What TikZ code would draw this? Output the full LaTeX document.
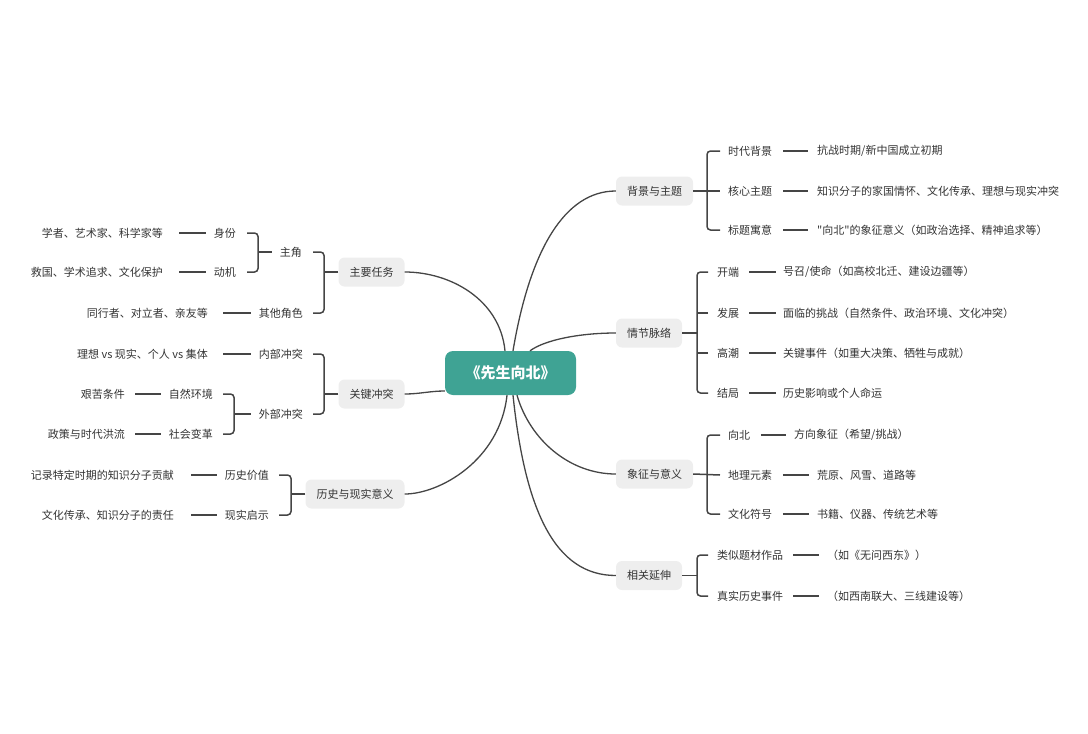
\documentclass[tikz,border=0pt]{standalone}
\usepackage{fontspec}
\setmainfont{Noto Sans CJK SC}[Ligatures=TeXOff]
\begin{document}
\begin{tikzpicture}[x=1pt,y=-1pt,
  ln/.style={draw=lc,line width=1.2pt},
  br/.style={draw=lc,line width=1.5pt,rounded corners=3.5pt},
  cv/.style={draw=lc,line width=1.3pt},
  box/.style={fill=boxc,rounded corners=6pt,minimum height=29pt,inner xsep=11pt,inner ysep=0pt,font=\fontsize{11}{13}\selectfont,text=tc},
  lbl/.style={inner sep=0pt,font=\fontsize{11}{13}\selectfont,text=tc},
  ctr/.style={fill=teal1,rounded corners=8pt,minimum width=131pt,minimum height=44pt,text=white,font=\fontsize{15}{18}\selectfont\bfseries}
]
\definecolor{lc}{HTML}{454545}
\definecolor{tc}{HTML}{333333}
\definecolor{boxc}{HTML}{EEEEEE}
\definecolor{teal1}{HTML}{3FA394}
\useasboundingbox (0,0) rectangle (1088,734);

% centre
\node[ctr] (c) at (510.5,373) {《先生向北》};

% first-level boxes
\node[box] (bg) at (654.5,191) {背景与主题};
\node[box] (qj) at (649,333) {情节脉络};
\node[box] (xz) at (654.5,474) {象征与意义};
\node[box] (xg) at (649,575.5) {相关延伸};
\node[box] (zy) at (371.5,272) {主要任务};
\node[box] (gj) at (371.5,394) {关键冲突};
\node[box] (ls) at (355,494) {历史与现实意义};

% main curves
\draw[cv] ([xshift=2.5pt]c.north) .. controls +(17,-101) and +(-51,0) .. (bg.west);
\draw[cv] ([xshift=19.5pt]c.north) .. controls +(15,-11) and +(-36,0) .. (qj.west);
\draw[cv] ([xshift=-5.5pt]c.north) .. controls +(-5,-51) and +(46,0) .. (zy.east);
\draw[cv] ([yshift=-18pt]c.west) .. controls +(-15,0) and +(15,0) .. (gj.east);
\draw[cv] ([xshift=-3.5pt]c.south) .. controls +(-7,65) and +(35,0) .. (ls.east);
\draw[cv] ([xshift=6.5pt]c.south) .. controls +(13,45) and +(-46,0) .. (xz.west);
\draw[cv] ([xshift=2.5pt]c.south) .. controls +(12,115) and +(-61,0) .. (xg.west);

% ---------- 背景与主题 ----------
\node[lbl,anchor=west] (b1) at (728,151) {时代背景};
\node[lbl,anchor=west] (b2) at (728,191) {核心主题};
\node[lbl,anchor=west] (b3) at (728,230) {标题寓意};
\node[lbl,anchor=west] (b1l) at (817,151) {抗战时期/新中国成立初期};
\node[lbl,anchor=west] (b2l) at (817,191) {知识分子的家国情怀、文化传承、理想与现实冲突};
\node[lbl,anchor=west] (b3l) at (817,230) {"向北"的象征意义（如政治选择、精神追求等）};
\draw[br] ([xshift=-8pt]b1.west) -- ++(-13,0) |- ([xshift=-8pt]b3.west);
\draw[ln,line width=1.5pt] (bg.east) -- ([xshift=-8pt]b2.west);
\foreach \a in {1,2,3}{\draw[ln] ([xshift=11pt]b\a.east) -- ([xshift=-9pt]b\a l.west);}

% ---------- 情节脉络 ----------
\node[lbl,anchor=west] (q1) at (717,272) {开端};
\node[lbl,anchor=west] (q2) at (717,313) {发展};
\node[lbl,anchor=west] (q3) at (717,353) {高潮};
\node[lbl,anchor=west] (q4) at (717,393) {结局};
\node[lbl,anchor=west] (q1l) at (783,272) {号召/使命（如高校北迁、建设边疆等）};
\node[lbl,anchor=west] (q2l) at (783,313) {面临的挑战（自然条件、政治环境、文化冲突）};
\node[lbl,anchor=west] (q3l) at (783,353) {关键事件（如重大决策、牺牲与成就）};
\node[lbl,anchor=west] (q4l) at (783,393) {历史影响或个人命运};
\draw[br] ([xshift=-9pt]q1.west) -- ++(-11,0) |- ([xshift=-9pt]q4.west);
\draw[ln] ([xshift=-9pt]q2.west) -- ++(-11,0);
\draw[ln] ([xshift=-9pt]q3.west) -- ++(-11,0);
\draw[ln,line width=1.5pt] (qj.east) -- ++(15,0);
\foreach \a in {1,2,3,4}{\draw[ln] ([xshift=10pt]q\a.east) -- ([xshift=-7pt]q\a l.west);}

% ---------- 象征与意义 ----------
\node[lbl,anchor=west] (s1) at (728,435) {向北};
\node[lbl,anchor=west] (s2) at (728,475) {地理元素};
\node[lbl,anchor=west] (s3) at (728,514) {文化符号};
\node[lbl,anchor=west] (s1l) at (794,435) {方向象征（希望/挑战）};
\node[lbl,anchor=west] (s2l) at (817,475) {荒原、风雪、道路等};
\node[lbl,anchor=west] (s3l) at (817,514) {书籍、仪器、传统艺术等};
\draw[br] ([xshift=-8pt]s1.west) -- ++(-13,0) |- ([xshift=-8pt]s3.west);
\draw[ln,line width=1.5pt] (xz.east) -- ([xshift=-8pt]s2.west);
\foreach \a in {1,2,3}{\draw[ln] ([xshift=10.5pt]s\a.east) -- ([xshift=-8.5pt]s\a l.west);}

% ---------- 相关延伸 ----------
\node[lbl,anchor=west] (e1) at (717,555) {类似题材作品};
\node[lbl,anchor=west] (e2) at (717,596) {真实历史事件};
\node[lbl,anchor=west] (e1l) at (827,555) {（如《无问西东》）};
\node[lbl,anchor=west] (e2l) at (827,596) {（如西南联大、三线建设等）};
\draw[br] ([xshift=-9pt]e1.west) -- ++(-11,0) |- ([xshift=-9pt]e2.west);
\draw[ln,line width=1.5pt] (xg.east) -- ++(15,0);
\foreach \a in {1,2}{\draw[ln] ([xshift=10pt]e\a.east) -- ([xshift=-8pt]e\a l.west);}

% ---------- 主要任务 ----------
\node[lbl,anchor=east] (z1) at (302,252) {主角};
\node[lbl,anchor=east] (z2) at (303,313) {其他角色};
\node[lbl,anchor=east] (z2l) at (208,313) {同行者、对立者、亲友等};
\draw[br] ([xshift=11pt]z1.east) -- ++(11,0) |- ([xshift=10pt]z2.east);
\draw[ln,line width=1.5pt] (zy.west) -- ++(-14,0);
\draw[ln] ([xshift=-8pt]z2.west) -- ([xshift=15pt]z2l.east);
\node[lbl,anchor=east] (z11) at (236,233) {身份};
\node[lbl,anchor=east] (z12) at (236,272) {动机};
\node[lbl,anchor=east] (z11l) at (163,233) {学者、艺术家、科学家等};
\node[lbl,anchor=east] (z12l) at (163,272) {救国、学术追求、文化保护};
\draw[br] ([xshift=11pt]z11.east) -- ++(11,0) |- ([xshift=11pt]z12.east);
\draw[ln,line width=1.5pt] ([xshift=-8pt]z1.west) -- ++(-14,0);
\foreach \a in {1,2}{\draw[ln] ([xshift=-8pt]z1\a.west) -- ([xshift=16pt]z1\a l.east);}

% ---------- 关键冲突 ----------
\node[lbl,anchor=east] (k1) at (303,354) {内部冲突};
\node[lbl,anchor=east] (k2) at (303,414) {外部冲突};
\node[lbl,anchor=east] (k1l) at (208,354) {理想 vs 现实、个人 vs 集体};
\draw[br] ([xshift=10pt]k1.east) -- ++(11,0) |- ([xshift=10pt]k2.east);
\draw[ln,line width=1.5pt] (gj.west) -- ++(-14,0);
\draw[ln] ([xshift=-8pt]k1.west) -- ([xshift=15pt]k1l.east);
\node[lbl,anchor=east] (k21) at (213,394) {自然环境};
\node[lbl,anchor=east] (k22) at (213,434) {社会变革};
\node[lbl,anchor=east] (k21l) at (125,394) {艰苦条件};
\node[lbl,anchor=east] (k22l) at (125,434) {政策与时代洪流};
\draw[br] ([xshift=10pt]k21.east) -- ++(11,0) |- ([xshift=10pt]k22.east);
\draw[ln,line width=1.5pt] ([xshift=-8pt]k2.west) -- ++(-17,0);
\foreach \a in {1,2}{\draw[ln] ([xshift=-8pt]k2\a.west) -- ([xshift=10pt]k2\a l.east);}

% ---------- 历史与现实意义 ----------
\node[lbl,anchor=east] (h1) at (269,475) {历史价值};
\node[lbl,anchor=east] (h2) at (269,515) {现实启示};
\node[lbl,anchor=east] (h1l) at (174,475) {记录特定时期的知识分子贡献};
\node[lbl,anchor=east] (h2l) at (174,515) {文化传承、知识分子的责任};
\draw[br] ([xshift=10pt]h1.east) -- ++(12,0) |- ([xshift=10pt]h2.east);
\draw[ln,line width=1.5pt] (ls.west) -- ++(-14,0);
\foreach \a in {1,2}{\draw[ln] ([xshift=-8pt]h\a.west) -- ([xshift=17pt]h\a l.east);}
\end{tikzpicture}
\end{document}
